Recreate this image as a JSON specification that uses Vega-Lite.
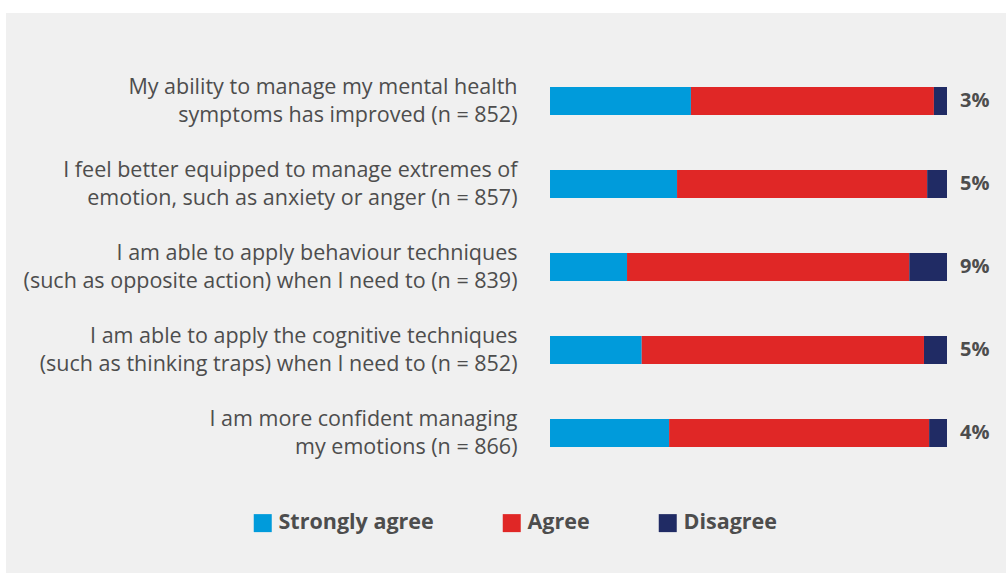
{
  "$schema": "https://vega.github.io/schema/vega-lite/v6.json",
  "width": 1000,
  "height": 560,
  "autosize": {"type": "none"},
  "padding": {"left": 6, "top": 13, "right": 0, "bottom": 0},
  "background": "#ffffff",
  "config": {
    "view": {"fill": "#f0f0f0", "stroke": null},
    "font": "Open Sans"
  },
  "datasets": {
    "bars": [
      {"item": "My ability to manage my mental health|symptoms has improved (n = 852)", "resp": "Strongly agree", "rank": 1, "pct": 35.5},
      {"item": "My ability to manage my mental health|symptoms has improved (n = 852)", "resp": "Agree", "rank": 2, "pct": 61.2},
      {"item": "My ability to manage my mental health|symptoms has improved (n = 852)", "resp": "Disagree", "rank": 3, "pct": 3.3},
      {"item": "I feel better equipped to manage extremes of|emotion, such as anxiety or anger (n = 857)", "resp": "Strongly agree", "rank": 1, "pct": 32.0},
      {"item": "I feel better equipped to manage extremes of|emotion, such as anxiety or anger (n = 857)", "resp": "Agree", "rank": 2, "pct": 63.0},
      {"item": "I feel better equipped to manage extremes of|emotion, such as anxiety or anger (n = 857)", "resp": "Disagree", "rank": 3, "pct": 5.0},
      {"item": "I am able to apply behaviour techniques|(such as opposite action) when I need to (n = 839)", "resp": "Strongly agree", "rank": 1, "pct": 19.4},
      {"item": "I am able to apply behaviour techniques|(such as opposite action) when I need to (n = 839)", "resp": "Agree", "rank": 2, "pct": 71.1},
      {"item": "I am able to apply behaviour techniques|(such as opposite action) when I need to (n = 839)", "resp": "Disagree", "rank": 3, "pct": 9.5},
      {"item": "I am able to apply the cognitive techniques|(such as thinking traps) when I need to (n = 852)", "resp": "Strongly agree", "rank": 1, "pct": 23.1},
      {"item": "I am able to apply the cognitive techniques|(such as thinking traps) when I need to (n = 852)", "resp": "Agree", "rank": 2, "pct": 71.1},
      {"item": "I am able to apply the cognitive techniques|(such as thinking traps) when I need to (n = 852)", "resp": "Disagree", "rank": 3, "pct": 5.8},
      {"item": "I am more confident managing|my emotions (n = 866)", "resp": "Strongly agree", "rank": 1, "pct": 30.0},
      {"item": "I am more confident managing|my emotions (n = 866)", "resp": "Agree", "rank": 2, "pct": 65.5},
      {"item": "I am more confident managing|my emotions (n = 866)", "resp": "Disagree", "rank": 3, "pct": 4.5}
    ],
    "labels": [
      {"item": "My ability to manage my mental health|symptoms has improved (n = 852)", "label": "3%"},
      {"item": "I feel better equipped to manage extremes of|emotion, such as anxiety or anger (n = 857)", "label": "5%"},
      {"item": "I am able to apply behaviour techniques|(such as opposite action) when I need to (n = 839)", "label": "9%"},
      {"item": "I am able to apply the cognitive techniques|(such as thinking traps) when I need to (n = 852)", "label": "5%"},
      {"item": "I am more confident managing|my emotions (n = 866)", "label": "4%"}
    ]
  },
  "encoding": {
    "y": {
      "field": "item",
      "type": "nominal",
      "sort": null,
      "scale": {"range": [74, 434], "paddingInner": 0.6627, "paddingOuter": 0},
      "axis": {
        "title": null,
        "orient": "left",
        "offset": -511,
        "domain": false,
        "ticks": false,
        "labelPadding": 0,
        "labelAlign": "right",
        "labelBaseline": "middle",
        "labelOffset": -13,
        "labelFontSize": 21.5,
        "labelColor": "#4d4d4d",
        "labelLineHeight": 28,
        "labelLimit": 0,
        "labelExpr": "split(datum.value, '|')"
      }
    }
  },
  "layer": [
    {
      "data": {"name": "bars"},
      "mark": {"type": "bar"},
      "encoding": {
        "x": {
          "field": "pct",
          "type": "quantitative",
          "stack": "zero",
          "scale": {"domain": [-137.03, 114.86], "nice": false, "zero": false},
          "axis": null
        },
        "order": {"field": "rank", "type": "quantitative"},
        "color": {
          "field": "resp",
          "type": "nominal",
          "sort": ["Strongly agree", "Agree", "Disagree"],
          "scale": {"domain": ["Strongly agree", "Agree", "Disagree"], "range": ["#009bdb", "#e02726", "#202b64"]},
          "legend": {
            "title": null,
            "orient": "none",
            "direction": "horizontal",
            "legendX": 246,
            "legendY": 499,
            "padding": 0,
            "symbolType": "square",
            "symbolSize": 324,
            "symbolStrokeWidth": 0,
            "symbolOpacity": 1,
            "labelOffset": 5,
            "labelFontSize": 21.5,
            "labelFontWeight": "bold",
            "labelColor": "#4d4d4d",
            "columnPadding": 67,
            "labelLimit": 0
          }
        }
      }
    },
    {
      "data": {"name": "labels"},
      "mark": {"type": "text", "align": "left", "baseline": "middle", "dx": 13, "fontSize": 20, "fontWeight": "bold", "color": "#4d4d4d"},
      "encoding": {
        "x": {"datum": 100, "type": "quantitative"},
        "text": {"field": "label"}
      }
    }
  ]
}
